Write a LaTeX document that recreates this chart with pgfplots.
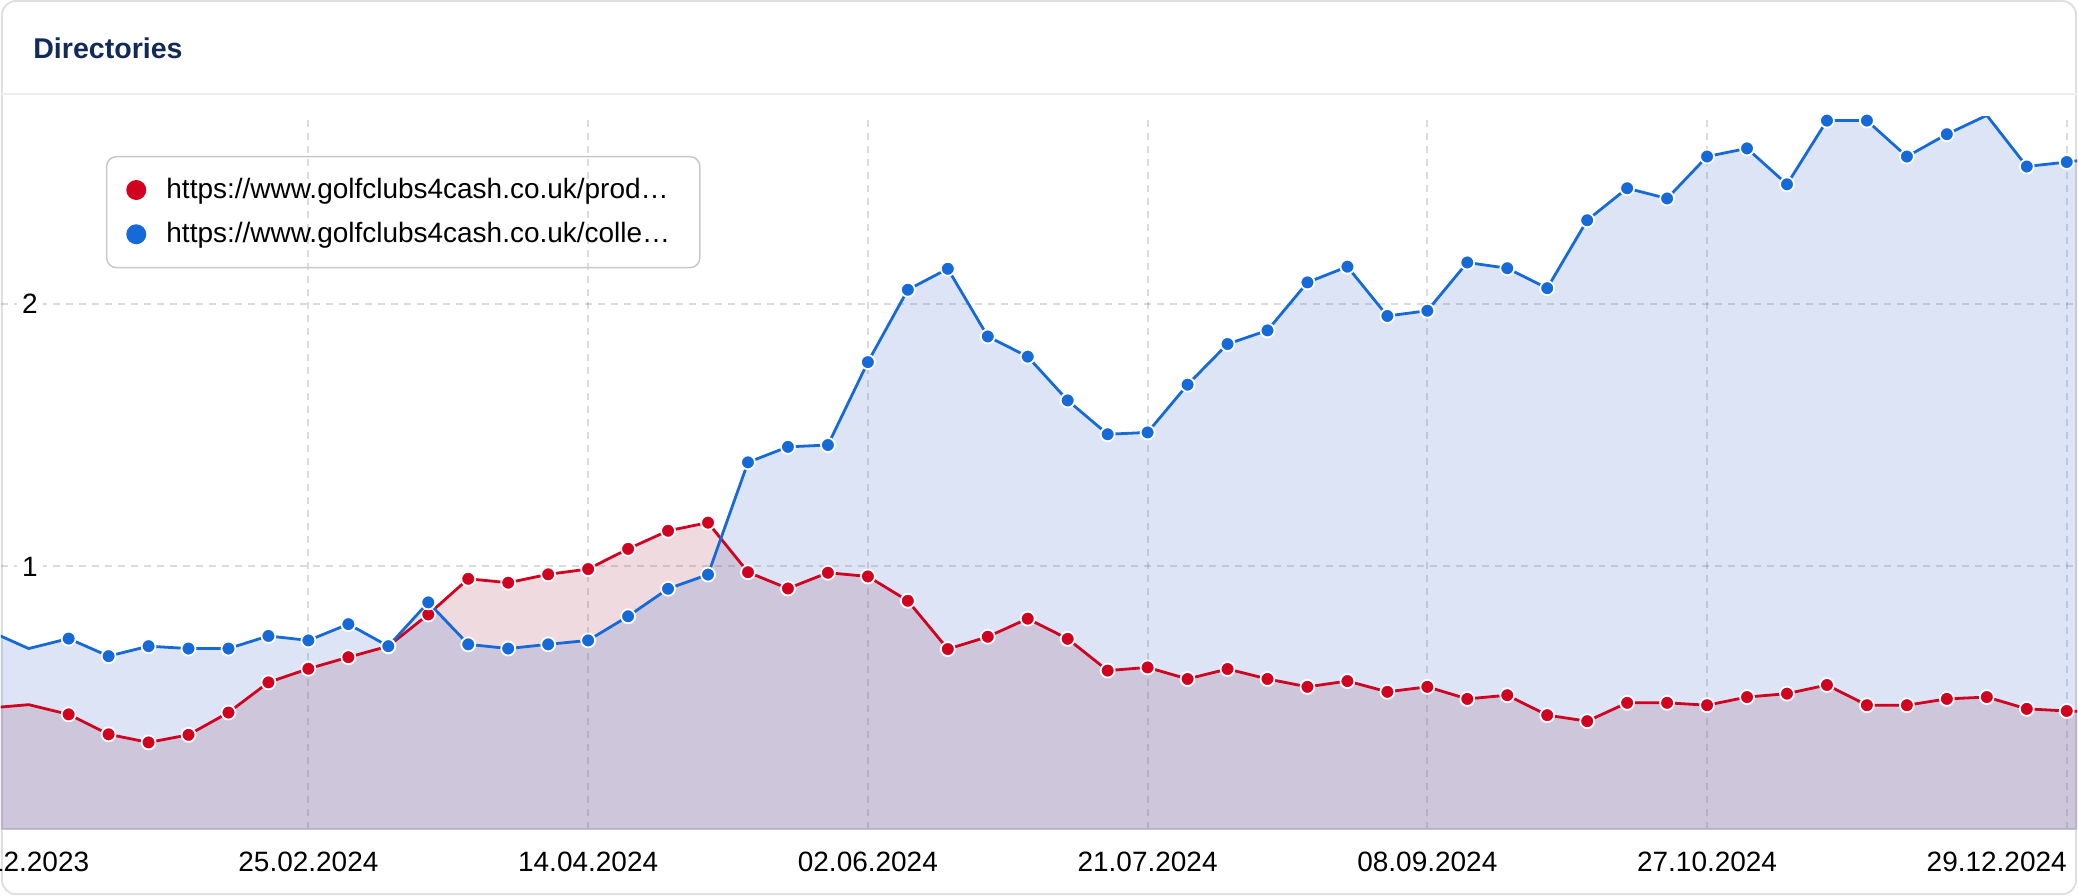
\documentclass[border=0pt]{standalone}
\usepackage{fontspec}
\setmainfont{Liberation Sans}
\usepackage{pgfplots}
\usepackage{pgfplotstable}
\pgfplotsset{compat=1.18}

\definecolor{gcred}{RGB}{208,2,32}
\definecolor{gcblue}{RGB}{22,106,216}
\definecolor{gcredfill}{RGB}{170,70,95}
\definecolor{gcbluefill}{RGB}{80,120,205}
\definecolor{titlenavy}{RGB}{18,42,88}
\definecolor{axgray}{RGB}{196,196,210}
\newcommand\tickfont{\fontsize{14}{16.8}\selectfont}

% weekly values, k=0 is 24.12.2023
\pgfplotstableread{
k v
1 0.460
2 0.473
3 0.436
4 0.360
5 0.329
6 0.358
7 0.443
8 0.558
9 0.610
10 0.654
11 0.696
12 0.817
13 0.953
14 0.938
15 0.970
16 0.990
17 1.067
18 1.136
19 1.167
20 0.978
21 0.916
22 0.976
23 0.962
24 0.869
25 0.685
26 0.732
27 0.801
28 0.724
29 0.603
30 0.615
31 0.571
32 0.609
33 0.571
34 0.541
35 0.563
36 0.522
37 0.541
38 0.495
39 0.509
40 0.433
41 0.410
42 0.480
43 0.480
44 0.471
45 0.502
46 0.515
47 0.548
48 0.471
49 0.471
50 0.495
51 0.502
52 0.457
53 0.449
54 0.445
}\prodtable

\pgfplotstableread{
k v
1 0.755
2 0.687
3 0.725
4 0.658
5 0.696
6 0.687
7 0.687
8 0.735
9 0.718
10 0.780
11 0.696
12 0.863
13 0.703
14 0.687
15 0.703
16 0.718
17 0.810
18 0.915
19 0.969
20 1.397
21 1.456
22 1.463
23 1.779
24 2.055
25 2.135
26 1.877
27 1.800
28 1.633
29 1.504
30 1.511
31 1.693
32 1.848
33 1.900
34 2.083
35 2.143
36 1.955
37 1.975
38 2.159
39 2.137
40 2.061
41 2.320
42 2.442
43 2.403
44 2.563
45 2.594
46 2.457
47 2.700
48 2.700
49 2.563
50 2.648
51 2.720
52 2.525
53 2.542
54 2.560
}\colltable

\begin{document}
\begin{tikzpicture}
\draw[black!12, line width=1pt, rounded corners=7pt] (0.5pt,0.5pt) rectangle (1038.5pt,447.5pt);
\node[anchor=base west, inner sep=0pt, font=\fontsize{14.3}{17}\selectfont\bfseries, text=titlenavy] at (16pt,418.5pt) {Directories};
\draw[black!7, line width=0.75pt] (0,401pt) -- (1039pt,401pt);

\begin{axis}[
  scale only axis,
  width=1039pt, height=356.5pt,
  at={(0pt,33.25pt)}, anchor=south west,
  xmin=1.3075, xmax=53.2575, ymin=0, ymax=2.716,
  clip mode=individual,
  axis x line*=bottom, axis y line*=left,
  x axis line style={draw=axgray, line width=1pt},
  y axis line style={draw=none},
  major tick length=0pt,
  xtick={9,16,23,30,37,44,53},
  xticklabels={25.02.2024,14.04.2024,02.06.2024,21.07.2024,08.09.2024,27.10.2024,\llap{29.12.2024}},
  ytick={1,2}, yticklabels={1,2},
  xticklabel style={anchor=base, yshift=-21.4pt, font=\tickfont},
  yticklabel style={anchor=west, xshift=7.85pt, fill=white, inner xsep=2.5pt, inner ysep=1pt, font=\tickfont},
  grid=major,
  major grid style={black, opacity=0.14, line width=1pt, dash pattern=on 3.5pt off 3pt},
  legend cell align=left,
  legend style={at={(0.0505,0.9446)}, anchor=north west,
    draw=black!22, line width=0.75pt, rounded corners=5pt, fill=none,
    inner xsep=9.85pt, inner ysep=10.9pt, row sep=10.5pt,
    font=\tickfont, nodes={inner sep=0pt}},
]
\addplot[draw=none, fill=gcredfill, fill opacity=0.2, forget plot] table[x=k, y=v] {\prodtable} \closedcycle;
\addplot[draw=none, fill=gcbluefill, fill opacity=0.2, forget plot] table[x=k, y=v] {\colltable} \closedcycle;
\addplot[gcred, line width=1.4pt, mark=*, mark size=3.5pt, mark indices={2,...,53},
  mark options={fill=gcred, draw=white, line width=0.9pt}, forget plot] table[x=k, y=v] {\prodtable};
\addplot[gcblue, line width=1.4pt, mark=*, mark size=3.5pt, mark indices={2,...,53},
  mark options={fill=gcblue, draw=white, line width=0.9pt}, forget plot] table[x=k, y=v] {\colltable};

\addlegendimage{legend image code/.code={\path[draw=none, fill=none] (0,0) -- (20.1pt,0); \fill[gcred, draw=none] (5pt,0) circle (5pt);}}
\addlegendentry{https://www.golfclubs4cash.co.uk/prod…\hspace*{5pt}}
\addlegendimage{legend image code/.code={\path[draw=none, fill=none] (0,0) -- (20.1pt,0); \fill[gcblue, draw=none] (5pt,0) circle (5pt);}}
\addlegendentry{https://www.golfclubs4cash.co.uk/colle…\hspace*{5pt}}

\node[overlay, anchor=base west, inner sep=0pt, font=\tickfont] at (axis cs:0,0) [yshift=-21.4pt] {24.12.2023};
\end{axis}
\end{tikzpicture}
\end{document}
